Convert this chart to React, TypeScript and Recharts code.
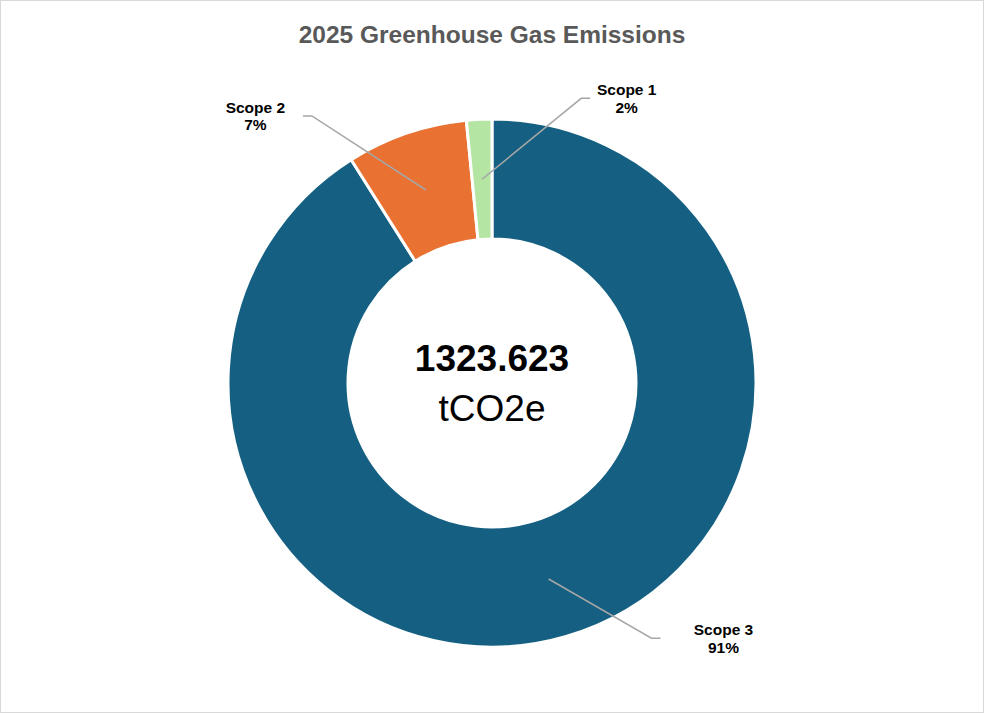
import React from "react";
import { PieChart, Pie, Cell } from "recharts";

const categories = ["Scope 3", "Scope 2", "Scope 1"];
const emissions = [1205.123, 98.0, 20.5];
const sliceColors = ["#156082", "#E97132", "#B5E5A2"];
const titleText = "2025 Greenhouse Gas Emissions";
const totalLabel = "1323.623";
const unitLabel = "tCO2e";

// leader-line layout: elbow direction (deg), elbow radius factor, text centre offset
const labelLayout: Record<string, { angle: number; rf: number; dx: number }> = {
  "Scope 3": { angle: -58, rf: 1.14, dx: 72 },
  "Scope 2": { angle: 124, rf: 1.22, dx: -56.5 },
  "Scope 1": { angle: 72.6, rf: 1.13, dx: 45.5 },
};

const data = categories.map((name, i) => ({ name, value: emissions[i] }));
const total = emissions.reduce((a, b) => a + b, 0);

const RAD = Math.PI / 180;
const FONT = "'Liberation Sans', Arial, sans-serif";

function renderLabel(props: any) {
  const { cx, cy, midAngle, innerRadius, outerRadius, name, value } = props;
  const lay = labelLayout[name];
  const rMid = (innerRadius + outerRadius) / 2;
  const sx = cx + rMid * Math.cos(-midAngle * RAD);
  const sy = cy + rMid * Math.sin(-midAngle * RAD);
  const er = outerRadius * lay.rf;
  const ex = cx + er * Math.cos(-lay.angle * RAD);
  const ey = cy + er * Math.sin(-lay.angle * RAD);
  const dir = lay.dx >= 0 ? 1 : -1;
  const hx = ex + dir * 9;
  const tx = ex + lay.dx;
  const pct = Math.round((value / total) * 100);
  return (
    <g>
      <polyline
        points={`${sx},${sy} ${ex},${ey} ${hx},${ey}`}
        fill="none"
        stroke="#A6A6A6"
        strokeWidth={1.5}
      />
      <text
        x={tx}
        y={ey - 3}
        textAnchor="middle"
        fontFamily={FONT}
        fontWeight="bold"
        fontSize={15.5}
        fill="#000"
      >
        {name}
      </text>
      <text
        x={tx}
        y={ey + 14.5}
        textAnchor="middle"
        fontFamily={FONT}
        fontWeight="bold"
        fontSize={15.5}
        fill="#000"
      >
        {pct}%
      </text>
    </g>
  );
}

export default function App() {
  return (
    <div
      style={{
        position: "absolute",
        left: 0,
        top: 0,
        width: 984,
        height: 713,
        boxSizing: "border-box",
        border: "1.5px solid #D9D9D9",
        background: "#fff",
      }}
    >
      <PieChart
        width={981}
        height={710}
        margin={{ top: 0, right: 0, bottom: 0, left: 0 }}
        style={{ position: "absolute", left: 0, top: 0 }}
      >
        <text
          x={491}
          y={42}
          textAnchor="middle"
          fontFamily={FONT}
          fontWeight="bold"
          fontSize={24.5}
          fill="#595959"
        >
          {titleText}
        </text>
        <Pie
          data={data}
          dataKey="value"
          nameKey="name"
          cx={491}
          cy={382}
          innerRadius={144}
          outerRadius={264}
          startAngle={90}
          endAngle={-270}
          stroke="#FFFFFF"
          strokeWidth={3}
          isAnimationActive={false}
          label={renderLabel}
          labelLine={false}
        >
          {data.map((d, i) => (
            <Cell key={d.name} fill={sliceColors[i]} />
          ))}
        </Pie>
        <text
          x={491}
          y={370}
          textAnchor="middle"
          fontFamily={FONT}
          fontWeight="bold"
          fontSize={37}
          fill="#000"
        >
          {totalLabel}
        </text>
        <text
          x={491}
          y={420}
          textAnchor="middle"
          fontFamily={FONT}
          fontSize={37}
          fill="#000"
        >
          {unitLabel}
        </text>
      </PieChart>
    </div>
  );
}
